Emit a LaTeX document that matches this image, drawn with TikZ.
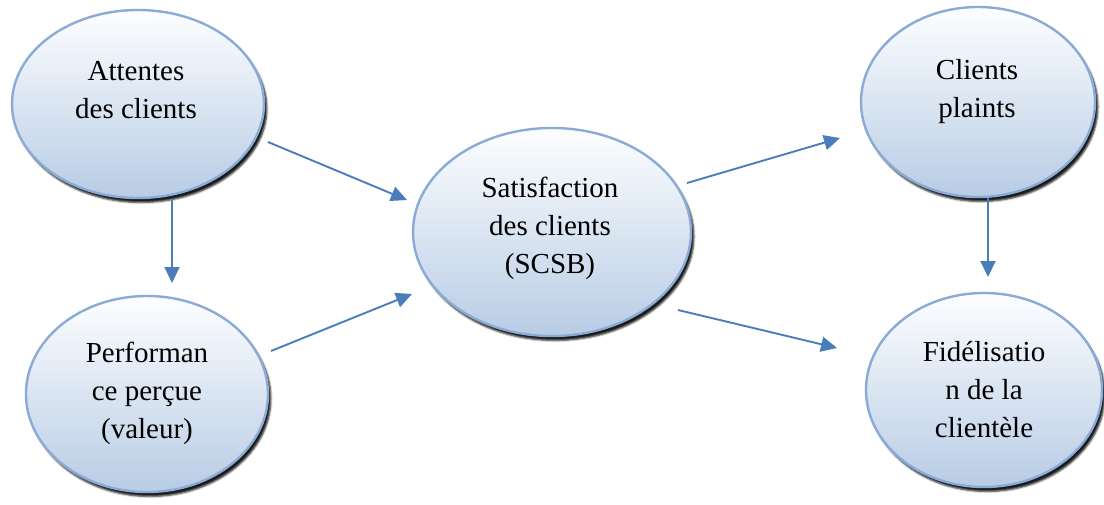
\documentclass[tikz,border=0pt]{standalone}
\usepackage{fontspec}
\setmainfont{Liberation Serif}
\usetikzlibrary{arrows.meta,calc,shapes.geometric,shadows.blur}

\definecolor{rimblue}{HTML}{8AABD5}
\definecolor{fillbottom}{HTML}{B8CCE5}
\definecolor{filltop}{HTML}{FDFEFF}
\definecolor{arrowblue}{HTML}{4A7EBB}

\tikzset{
  bubble/.style={ellipse, draw=rimblue, line width=2.4pt, inner sep=0pt,
    top color=filltop, bottom color=fillbottom,
    blur shadow={shadow xshift=3pt, shadow yshift=-4.5pt,
      shadow blur steps=4, shadow blur radius=1.8pt, shadow opacity=90}},
  % base anchor sits on the last line of a multi-line caption
  caption/.style={anchor=base, align=center,
    font=\fontsize{29}{38}\selectfont},
  link/.style={draw=arrowblue, line width=1.9pt,
    -{Triangle[length=16pt,width=15pt]}},
}

\begin{document}
\begin{tikzpicture}[x=1pt, y=-1pt]
  \useasboundingbox (0,0) rectangle (1104,504);

  % ellipses
  \node[bubble, minimum width=252pt, minimum height=188pt] (att) at (138,104) {};
  \node[bubble, minimum width=242pt, minimum height=196pt] (perf) at (147,394) {};
  \node[bubble, minimum width=278pt, minimum height=208pt] (sat) at (552,232) {};
  \node[bubble, minimum width=234pt, minimum height=190pt] (cli) at (978,102) {};
  \node[bubble, minimum width=236pt, minimum height=194pt] (fid) at (984,390) {};

  % captions
  \node[caption] (attT) at (136,118) {Attentes\\des clients};
  \node[caption] (perfT) at (147,438) {Performan\\ce perçue\\(valeur)};
  \node[caption] (satT) at (550,273) {Satisfaction\\des clients\\(SCSB)};
  \node[caption] (cliT) at (977,117) {Clients\\plaints};
  \node[caption] (fidT) at (984,437) {Fidélisatio\\n de la\\clientèle};

  % connectors
  \draw[link] ($(att)+(34,96)$) -- ($(perf)+(25,-111)$);
  \draw[link] ($(att)+(130,38)$) -- ($(sat)+(-145,-32)$);
  \draw[link] ($(perf)+(124,-43)$) -- ($(sat)+(-140,62)$);
  \draw[link] ($(sat)+(135,-49)$) -- ($(cli)+(-138,36)$);
  \draw[link] ($(sat)+(126,78)$) -- ($(fid)+(-147,-42)$);
  \draw[link] ($(cli)+(10,96)$) -- ($(fid)+(4,-113)$);
\end{tikzpicture}
\end{document}
